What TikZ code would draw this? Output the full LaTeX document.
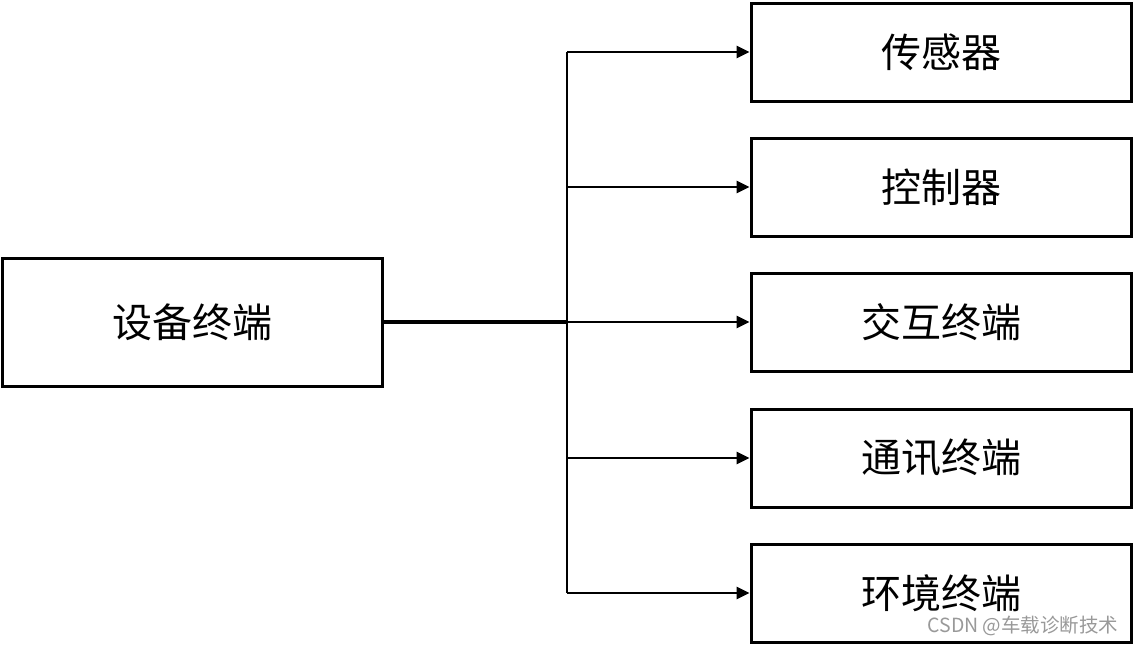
\documentclass[tikz,border=0pt]{standalone}
\usepackage{fontspec}
\setmainfont{Noto Sans CJK SC}
\usetikzlibrary{arrows.meta}
\tikzset{
  box/.style={draw=black, line width=3pt, minimum width=380pt, minimum height=98pt, inner sep=0pt, font=\fontsize{40}{44}\selectfont},
  lbox/.style={box, minimum width=380pt, minimum height=128pt},
  branch/.style={line width=2.6pt, -{Triangle[length=13pt,width=12pt]}},
  trunk/.style={line width=2.6pt},
  wm/.style={text=black!40, font=\fontsize{19.5}{22}\selectfont, inner sep=0pt}
}
\begin{document}
\begin{tikzpicture}[x=1pt,y=-1pt]
\useasboundingbox (0,0) rectangle (1134,646);
\fill[white] (0,0) rectangle (1134,646);
\node[lbox] (dev) at (192,322) {\raisebox{-4pt}{设备终端}};
\node[box] (b1) at (941,52) {\raisebox{-4pt}{传感器}};
\node[box] (b2) at (941,187) {\raisebox{-4pt}{控制器}};
\node[box] (b3) at (941,322) {\raisebox{-4pt}{交互终端}};
\node[box] (b4) at (941,458) {\raisebox{-4pt}{通讯终端}};
\node[box] (b5) at (941,593) {\raisebox{-4pt}{环境终端}};
\coordinate (j) at (567,322);
\coordinate (top) at (567,52);
\coordinate (bot) at (567,593);
\draw[line width=3.6pt] (dev.east) -- (j);
\draw[trunk] (top) -- (bot);
\draw[branch] (top) -- (b1.west);
\draw[branch] (567,187) -- (b2.west);
\draw[branch] (j) -- (b3.west);
\draw[branch] (567,458) -- (b4.west);
\draw[branch] (bot) -- (b5.west);
\node[wm] (w) at (1023,626) {CSDN @车载诊断技术};
\end{tikzpicture}
\end{document}
